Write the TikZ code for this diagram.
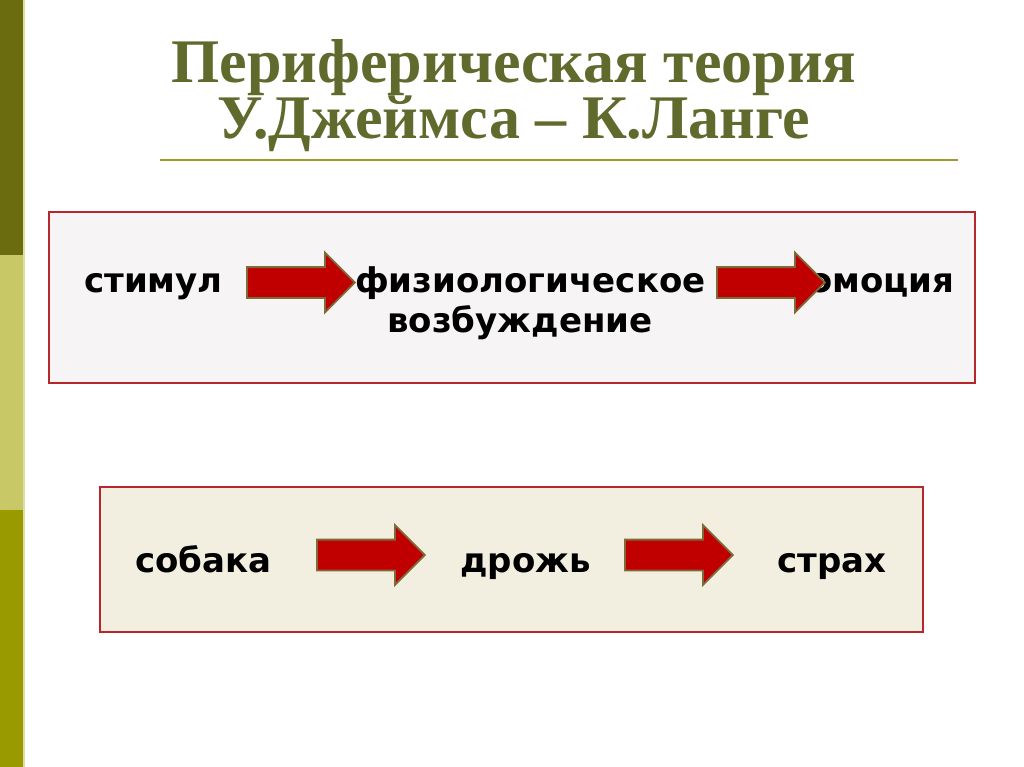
\documentclass[tikz,border=0pt]{standalone}
\usepackage{fontspec}
\setmainfont{Liberation Serif}
\newfontfamily\labelfont{DejaVu Sans}
\usepackage{xcolor}
\usetikzlibrary{shapes.arrows,positioning}

\definecolor{stripedark}{HTML}{6B6B10}
\definecolor{stripelight}{HTML}{C8C866}
\definecolor{stripemid}{HTML}{999900}
\definecolor{titlecol}{HTML}{5F6A2C}
\definecolor{rulecol}{HTML}{9C9C30}
\definecolor{boxred}{HTML}{B8262B}
\definecolor{boxfillA}{HTML}{F6F4F4}
\definecolor{boxfillB}{HTML}{F2EFE1}
\definecolor{arrowred}{HTML}{C00000}
\definecolor{arrowedge}{HTML}{7F6A3A}

\begin{document}
\begin{tikzpicture}[
		x=1pt, y=-1pt,
		title/.style={font=\fontsize{62}{53}\selectfont\bfseries, text=titlecol, inner sep=0pt, align=center},
		frame/.style={draw=boxred, line width=2.5pt},
		word/.style={font=\labelfont\fontsize{34}{40}\selectfont\bfseries, inner sep=0pt, anchor=base west},
		blockarr/.style={single arrow, draw=arrowedge, fill=arrowred, line width=1.8pt,
				minimum height=108pt, single arrow head extend=14.5pt,
				inner sep=0pt, anchor=west}
		]
		\useasboundingbox (0,0) rectangle (1024,767);
		% side stripe
		\fill[stripedark] (0,0) rectangle (23,255);
		\fill[stripelight] (0,255) rectangle (23,510);
		\fill[stripemid] (0,510) rectangle (23,767);
		\fill[stripelight!60!white] (23,0) rectangle (25,767);
		% heading
		\node[title, anchor=base] (head) at (514,139) {Периферическая теория\\У.Джеймса – К.Ланге};
		\draw[rulecol, line width=2pt] (160,160) -- (958,160);
		% upper scheme
		\draw[frame, fill=boxfillA] (49,212) rectangle (975,383);
		\node[word] (stim) at (84,292) {стимул};
		\node[word] (phys) at (355,292) {физиологическое};
		\node[word] (exc) at (387,332) {возбуждение};
		\node[word] (emo) at (812,292) {эмоция};
		\node[blockarr] (a1) at (246,282.5) {\rule{0pt}{29pt}};
		\node[blockarr] (a2) at (716,282.5) {\rule{0pt}{29pt}};
		% lower scheme
		\draw[frame, fill=boxfillB] (100,487) rectangle (923,632);
		\node[word] (dog) at (135,572) {собака};
		\node[word] (tremor) at (460,572) {дрожь};
		\node[word] (fear) at (777,572) {страх};
		\node[blockarr] (a3) at (316,555) {\rule{0pt}{29pt}};
		\node[blockarr] (a4) at (624,555) {\rule{0pt}{29pt}};
	\end{tikzpicture}
\end{document}
